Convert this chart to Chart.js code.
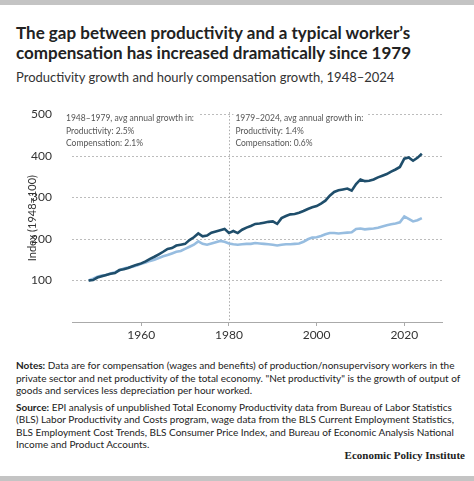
<!DOCTYPE html>
<html>
<head>
<meta charset="utf-8">
<script src="https://cdn.jsdelivr.net/npm/chart.js"></script>
<style>
body{margin:0;width:474px;height:481px;background:#fff;font-family:Lato,sans-serif;position:relative;overflow:hidden;color:#222}
.bar{position:absolute;left:0;width:474px;height:5px;background:#c4c4c4}
#title{position:absolute;left:16px;top:23px;font-weight:700;font-size:17px;line-height:20px;color:#222;white-space:nowrap}
#sub{position:absolute;left:16px;top:69px;font-size:13px;line-height:16px;color:#333;white-space:nowrap}
#wrap{position:absolute;left:0;top:95px;width:474px;height:250px}
#notes{position:absolute;left:16px;top:359px;font-size:10px;line-height:12.5px;color:#222;white-space:nowrap}
#notes .src{margin-top:4px}
#epi{position:absolute;right:9px;top:448px;font-family:"Liberation Serif",serif;font-weight:bold;font-size:11px;line-height:15px}
</style>
</head>
<body>
<div class="bar" style="top:0"></div>
<div id="title">The gap between productivity and a typical worker’s<br>compensation has increased dramatically since 1979</div>
<div id="sub">Productivity growth and hourly compensation growth, 1948–2024</div>
<div id="wrap"><canvas id="chart" width="474" height="250"></canvas></div>
<div id="notes">
<div><b>Notes:</b> Data are for compensation (wages and benefits) of production/nonsupervisory workers in the<br>private sector and net productivity of the total economy. "Net productivity" is the growth of output of<br>goods and services less depreciation per hour worked.</div>
<div class="src"><b>Source:</b> EPI analysis of unpublished Total Economy Productivity data from Bureau of Labor Statistics<br>(BLS) Labor Productivity and Costs program, wage data from the BLS Current Employment Statistics,<br>BLS Employment Cost Trends, BLS Consumer Price Index, and Bureau of Economic Analysis National<br>Income and Product Accounts.</div>
</div>
<div id="epi">Economic Policy Institute</div>
<div class="bar" style="top:476px"></div>
<script>
const years = [
	1948,1949,1950,1951,1952,1953,1954,1955,1956,1957,
	1958,1959,1960,1961,1962,1963,1964,1965,1966,1967,
	1968,1969,1970,1971,1972,1973,1974,1975,1976,1977,
	1978,1979,1980,1981,1982,1983,1984,1985,1986,1987,
	1988,1989,1990,1991,1992,1993,1994,1995,1996,1997,
	1998,1999,2000,2001,2002,2003,2004,2005,2006,2007,
	2008,2009,2010,2011,2012,2013,2014,2015,2016,2017,
	2018,2019,2020,2021,2022,2023,2024
];
const productivity = [
	100,101,107,110,113,116,118,125,127,130,
	134,138,141,146,152,157,163,169,176,178,
	184,186,188,197,204,213,206,208,215,218,
	221,224,214,219,214,222,227,231,236,237,
	239,241,242,236,250,255,259,260,263,267,
	272,276,279,285,292,304,313,317,319,321,
	316,332,343,339,340,343,348,352,356,362,
	367,373,393,396,388,395,405
];
const compensation = [
	100,104,109,112,113,117,120,124,129,131,
	133,136,140,143,147,150,154,158,161,165,
	169,171,176,181,186,194,188,186,189,192,
	195,193,189,187,186,187,188,188,190,189,
	188,187,186,184,186,187,187,188,189,193,
	199,203,204,207,211,214,214,213,214,215,
	216,224,225,223,224,225,227,230,233,235,
	237,240,254,248,242,245,250
];
const xTicks = [1960, 1980, 2000, 2020];
const yTicks = [100, 200, 300, 400, 500];
const dividerYear = 1980;
const notesLeft = ['1948–1979, avg annual growth in:', 'Productivity: 2.5%', 'Compensation: 2.1%'];
const notesRight = ['1979–2024, avg annual growth in:', 'Productivity: 1.4%', 'Compensation: 0.6%'];

// dotted gridlines, dotted divider and the two growth notes
const periodNotes = {
	id: 'periodNotes',
	beforeDatasetsDraw(chart){
		const {ctx, chartArea, scales} = chart;
		const vx = scales.x.getPixelForValue(dividerYear);
		ctx.save();
		ctx.strokeStyle = '#bcbcbc';
		ctx.lineWidth = 1;
		ctx.setLineDash([2, 2]);
		yTicks.forEach(v => {
			const py = Math.round(scales.y.getPixelForValue(v)) + 0.5;
			ctx.beginPath();
			ctx.moveTo(chartArea.left, py);
			ctx.lineTo(chartArea.right, py);
			ctx.stroke();
		});
		ctx.font = '8.5px Lato, sans-serif';
		ctx.textBaseline = 'middle';
		const drawBlock = (lines, x) => {
			let w = 0;
			lines.forEach(t => { w = Math.max(w, ctx.measureText(t).width); });
			ctx.fillStyle = '#fff';
			ctx.fillRect(x - 2, chartArea.top - 3, w + 6, 38);
			ctx.fillStyle = '#555';
			lines.forEach((t, i) => ctx.fillText(t, x, chartArea.top + 4.5 + i * 12.3));
		};
		drawBlock(notesLeft, chartArea.left - 6);
		drawBlock(notesRight, vx + 6.5);
		ctx.strokeStyle = '#aaa';
		ctx.setLineDash([1.5, 2]);
		ctx.beginPath();
		ctx.moveTo(Math.round(vx) + 0.5, chartArea.top - 2);
		ctx.lineTo(Math.round(vx) + 0.5, chartArea.bottom);
		ctx.stroke();
		ctx.restore();
	}
};

new Chart(document.getElementById('chart'), {
	type: 'line',
	data: {
		datasets: [
			{
				label: 'Productivity',
				data: years.map((yr, i) => ({x: yr, y: productivity[i]})),
				borderColor: '#1f4e6b',
				borderWidth: 2.6,
				pointRadius: 0,
				tension: 0
			},{
				label: 'Compensation',
				data: years.map((yr, i) => ({x: yr, y: compensation[i]})),
				borderColor: '#97bde0',
				borderWidth: 2.6,
				pointRadius: 0,
				tension: 0
			}
		]
	},
	options: {
		responsive: false,
		animation: false,
		layout: {padding: {top: 14, right: 32, left: 0, bottom: 0}},
		plugins: {legend: {display: false}, tooltip: {enabled: false}},
		scales: {
			x: {
				type: 'linear',
				min: 1944.2,
				max: 2028.6,
				afterBuildTicks: s => { s.ticks = xTicks.map(v => ({value: v})); },
				afterFit: s => { s.height = 23; },
				grid: {drawOnChartArea: false, drawTicks: true, tickLength: 4, color: '#aaa'},
				border: {color: '#aaa', width: 1},
				ticks: {callback: v => String(v), font: {family: 'Lato', size: 12}, color: '#333', padding: 2, maxRotation: 0}
			},
			y: {
				min: 0,
				max: 500,
				afterBuildTicks: s => { s.ticks = yTicks.map(v => ({value: v})); },
				afterFit: s => { s.width = 72; },
				grid: {display: false},
				border: {display: false},
				ticks: {font: {family: 'Lato', size: 12}, color: '#333', padding: 12},
				title: {display: true, text: 'Index (1948=100)', font: {family: 'Lato', size: 11}, color: '#333', padding: {top: 26, bottom: 0}}
			}
		}
	},
	plugins: [periodNotes]
});
</script>
</body>
</html>
